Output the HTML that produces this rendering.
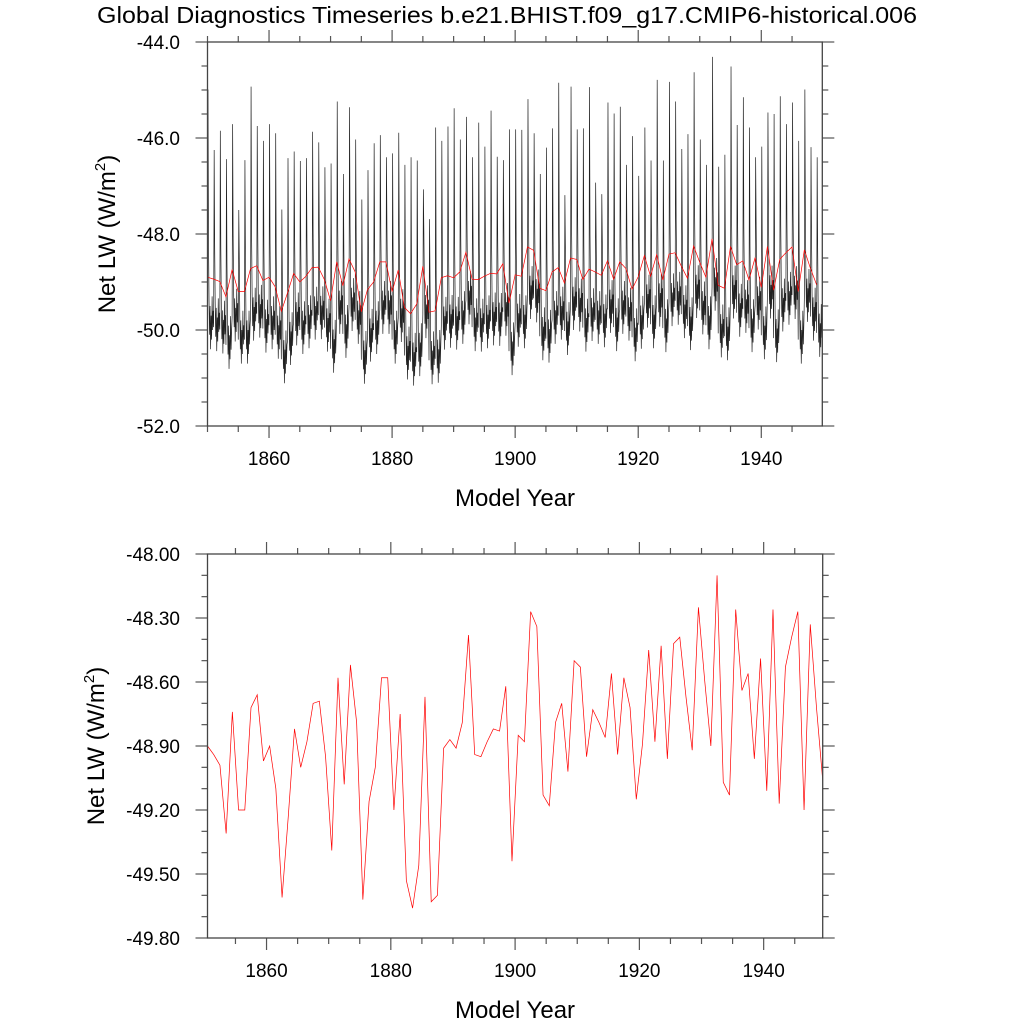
<!DOCTYPE html>
<html><head><meta charset="utf-8">
<style>
html,body{margin:0;padding:0;background:#fff;}
svg{display:block;font-family:"Liberation Sans",Arial,sans-serif;}
</style></head>
<body>
<svg id="chart" width="1024" height="1024" viewBox="0 0 1024 1024" xmlns="http://www.w3.org/2000/svg">
<rect width="1024" height="1024" fill="#fff"/>
<text x="507" y="23" font-size="23.5" text-anchor="middle" textLength="820" lengthAdjust="spacingAndGlyphs">Global Diagnostics Timeseries b.e21.BHIST.f09_g17.CMIP6-historical.006</text>
<g id="top"></g>
<g id="bot"></g>
</svg>
<script>
// Annual global mean Net LW (W/m2), 1850..1949
const annual = [-48.90,-48.94,-48.99,-49.31,-48.74,-49.20,-49.20,-48.72,-48.66,-48.97,
-48.90,-49.10,-49.61,-49.23,-48.82,-49.00,-48.88,-48.70,-48.69,-48.95,
-49.39,-48.58,-49.08,-48.52,-48.79,-49.62,-49.16,-49.00,-48.58,-48.58,
-49.20,-48.75,-49.53,-49.66,-49.46,-48.67,-49.63,-49.60,-48.91,-48.87,
-48.91,-48.79,-48.38,-48.94,-48.95,-48.88,-48.82,-48.83,-48.62,-49.44,
-48.85,-48.88,-48.27,-48.34,-49.13,-49.18,-48.79,-48.70,-49.02,-48.50,
-48.53,-48.95,-48.73,-48.79,-48.86,-48.56,-48.94,-48.58,-48.72,-49.15,
-48.89,-48.45,-48.88,-48.43,-48.96,-48.42,-48.39,-48.67,-48.92,-48.25,
-48.59,-48.90,-48.10,-49.07,-49.13,-48.26,-48.64,-48.56,-48.96,-48.49,
-49.11,-48.26,-49.17,-48.53,-48.39,-48.27,-49.20,-48.33,-48.72,-49.06];
// Peak monthly value each year
const peaks = [-44.99,-46.25,-45.85,-46.44,-45.71,-47.50,-46.46,-44.93,-45.75,-46.06,
-45.71,-45.90,-47.49,-46.42,-46.28,-46.48,-46.42,-45.87,-46.09,-46.61,
-46.53,-45.24,-46.75,-45.36,-46.03,-47.28,-46.67,-46.11,-45.94,-46.40,
-46.32,-45.89,-46.56,-46.40,-46.47,-47.07,-47.69,-45.78,-46.06,-45.76,
-45.38,-46.03,-45.56,-46.40,-45.68,-46.18,-45.43,-46.39,-46.46,-45.82,
-45.82,-45.83,-45.19,-45.90,-46.75,-46.20,-45.80,-44.85,-47.19,-44.93,
-45.82,-45.80,-44.94,-46.93,-47.17,-45.26,-45.49,-45.35,-46.56,-45.96,
-46.79,-45.78,-46.47,-44.79,-46.47,-44.83,-45.24,-46.23,-45.92,-44.63,
-46.03,-46.56,-44.31,-46.60,-46.35,-44.51,-45.73,-45.15,-45.78,-46.40,
-46.18,-45.47,-45.50,-45.13,-45.71,-45.26,-46.06,-44.99,-46.19,-46.40];
// Typical monthly anomaly (W/m2) relative to annual mean for non-peak months; peak month index 1
const season = [-1.0,0,0.7,-0.5,-1.2,-0.6,-1.5,-0.8,-1.3,-0.4,-1.1,-0.7];
const peakMonth = 1;
const topYTicks = ["-44.0","-46.0","-48.0","-50.0","-52.0"];
const botYTicks = ["-48.00","-48.30","-48.60","-48.90","-49.20","-49.50","-49.80"];
const xTicks = ["1860","1880","1900","1920","1940"];

const NS="http://www.w3.org/2000/svg";
function mk(parent,tag,attrs){const e=document.createElementNS(NS,tag);for(const k in attrs)e.setAttribute(k,attrs[k]);parent.appendChild(e);return e;}

function panel(g,cfg){
  const {L,R,T,B,x0,x1,y0,y1}=cfg;
  const sx=t=>L+(t-x0)/(x1-x0)*(R-L);
  const sy=v=>T+(y0-v)/(y0-y1)*(B-T);
  const tk=mk(g,'g',{stroke:'#555','stroke-width':1.2});
  
  
  for(let yr=1850;yr<=1950;yr+=5){
    const x=sx(yr); if(x<L-0.5||x>R+0.5)continue;
    const maj=(yr%20===0);const len=maj?12:6;
    mk(tk,'line',{x1:x,x2:x,y1:B,y2:B+len});
    mk(tk,'line',{x1:x,x2:x,y1:T,y2:T-len});
  }
  for(let k=0;k<=cfg.nMinor;k++){
    const v=y0-k*cfg.minor;const y=sy(v);
    const maj=(k%cfg.majEvery===0);const len=maj?12:6;
    mk(tk,'line',{x1:L,x2:L-len,y1:y,y2:y});
    mk(tk,'line',{x1:R,x2:R+len,y1:y,y2:y});
  }
  cfg.yLabels.forEach((s,i)=>{
    const t=mk(g,'text',{x:180,y:sy(parseFloat(s))+7,'font-size':19,'text-anchor':'end'});
    
    
    t.textContent=s;
  });
  xTicks.forEach(s=>{
    const t=mk(g,'text',{x:sx(parseFloat(s)),y:B+39,'font-size':19,'text-anchor':'middle'});
    
    
    t.textContent=s;
  });
  const xt=mk(g,'text',{x:515,y:B+80,'font-size':24,'text-anchor':'middle'});
  
  
  xt.textContent='Model Year';
  const cy=(T+B)/2;
  const yt=mk(g,'text',{x:cfg.ytx,y:cy,'font-size':24,'text-anchor':'middle',transform:`rotate(-90 ${cfg.ytx} ${cy})`});
  
  
  yt.innerHTML='Net LW (W/m<tspan font-size="15" dy="-10">2</tspan><tspan dy="10">)</tspan>';
  return {sx,sy};
}
function frame(g,c){
  const f=mk(g,'rect',{x:c.L,y:c.T,width:c.R-c.L,height:c.B-c.T,fill:'none',stroke:'#444','stroke-width':1.3});
  
  
}

// Top panel
const topCfg={L:207.5,R:822.3,T:42,B:426,x0:1850,x1:1850+1199/12,y0:-44,y1:-52,minor:0.5,nMinor:16,majEvery:4,yLabels:topYTicks,ytx:115};
const gt=document.getElementById('top');
const A=panel(gt,topCfg);
let pts=[];
for(let i=0;i<annual.length;i++){
  for(let k=0;k<12;k++){
    const v=(k===peakMonth)?peaks[i]:annual[i]+season[k];
    pts.push(A.sx(1850+i+k/12).toFixed(2)+','+A.sy(v).toFixed(2));
  }
}
const mline=mk(gt,'polyline',{points:pts.join(' '),fill:'none',stroke:'#222','stroke-width':0.7});


const aline=mk(gt,'polyline',{points:annual.map((v,i)=>A.sx(1850+i).toFixed(2)+','+A.sy(v).toFixed(2)).join(' '),fill:'none',stroke:'#f00','stroke-width':0.7});


frame(gt,topCfg);

// Bottom panel
const botCfg={L:207.5,R:822.7,T:554,B:938,x0:1850.5,x1:1949.5,y0:-48.0,y1:-49.8,minor:0.1,nMinor:18,majEvery:3,yLabels:botYTicks,ytx:104};
const gb=document.getElementById('bot');
const Bp=panel(gb,botCfg);
const bline=mk(gb,'polyline',{points:annual.map((v,i)=>Bp.sx(1850.5+i).toFixed(2)+','+Bp.sy(v).toFixed(2)).join(' '),fill:'none',stroke:'#f00','stroke-width':0.7});


frame(gb,botCfg);
</script>
</body></html>
